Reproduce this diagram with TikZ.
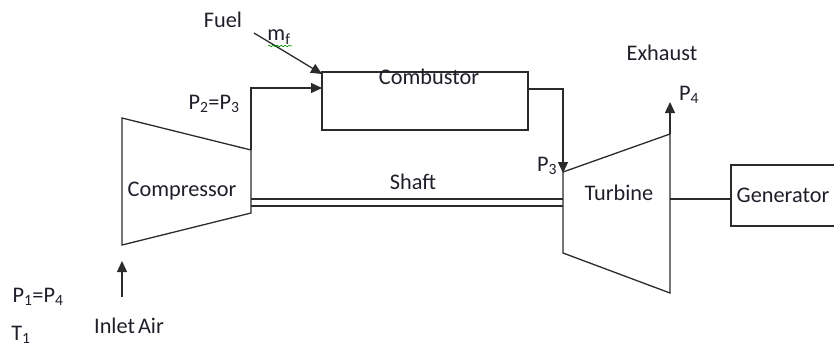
\documentclass[tikz,border=0pt]{standalone}
\usepackage{fontspec}
\setmainfont{Carlito}
\usetikzlibrary{arrows.meta,decorations.pathmorphing}
\definecolor{ln}{HTML}{2B2B2B}
\definecolor{tx}{HTML}{1F1F2A}
\tikzset{
  part/.style={draw=ln, line width=1.3pt, line join=miter},
  conn/.style={draw=ln, line width=1.3pt},
  arr/.style={conn, -{Triangle[length=11pt,width=10pt]}},
  lbl/.style={text=tx, font=\fontsize{22.3}{26}\selectfont, inner sep=0pt, anchor=center}
}
\begin{document}
\begin{tikzpicture}[x=1pt,y=-1pt]
\useasboundingbox (0,0) rectangle (834,349);
% compressor
\coordinate (cTL) at (122,118);
\coordinate (cBL) at (122,245);
\coordinate (cTR) at (251,150);
\coordinate (cBR) at (251,213);
\draw[part] (cTL) -- (cTR) -- (cBR) -- (cBL) -- cycle;
% turbine
\coordinate (tTL) at (563,172);
\coordinate (tBL) at (563,253);
\coordinate (tTR) at (670,134);
\coordinate (tBR) at (670,293);
\draw[part] (tTL) -- (tTR) -- (tBR) -- (tBL) -- cycle;
% combustor
\draw[part] (322,72) rectangle (528,130);
\coordinate (combIn) at (322,88);
\coordinate (combFuel) at (322,74);
\coordinate (combOut) at (528,89);
\coordinate (combCorner) at (563,89);
% generator
\draw[part] (840,165) -- (731,165) -- (731,226) -- (840,226);
\coordinate (genIn) at (731,199);
\coordinate (turbOut) at (670,199);
% compressor outlet to combustor
\coordinate (cOutTop) at (251,88);
\draw[arr] (cTR) -- (cOutTop) -- (combIn);
% fuel
\coordinate (fuelStart) at (254,33);
\draw[arr] (fuelStart) -- (combFuel);
% combustor to turbine
\draw[arr] (combOut) -- (combCorner) -- ([yshift=-1pt]tTL);
% exhaust
\coordinate (exTip) at (670,102);
\draw[arr] (tTR) -- (exTip);
% shaft
\draw[conn] (251,199) -- (563,199);
\draw[conn] (251,206) -- (563,206);
% generator link
\draw[conn] (turbOut) -- (genIn);
% inlet air
\coordinate (inBot) at (122,297);
\coordinate (inTip) at (122,261);
\draw[arr] (inBot) -- (inTip);
% labels
\node[lbl] (fuel) at (223,20) {Fuel};
\node[lbl] (mf) at (279,37) {m\textsubscript{f}};
\draw[green!60!black, line width=0.6pt, decorate, decoration={snake, amplitude=0.8pt, segment length=4pt}] (268,46) -- (292,46);
\node[lbl] (comb) at (429,77) {Combustor};
\node[lbl] (exh) at (662,53) {Exhaust};
\node[lbl] (p4) at (689,95) {P\textsubscript{4}};
\node[lbl] (p2) at (214,104) {P\textsubscript{2}=P\textsubscript{3}};
\node[lbl] (compr) at (182,191) {Compressor};
\node[lbl] (shaft) at (413,182) {Shaft};
\node[lbl] (p3) at (547,166) {P\textsubscript{3}};
\node[lbl] (turb) at (619,193) {Turbine};
\node[lbl] (gen) at (783,195) {Generator};
\node[lbl] (p1) at (38,297) {P\textsubscript{1}=P\textsubscript{4}};
\node[lbl] (t1) at (21,335) {T\textsubscript{1}};
\node[lbl] (inlet) at (129,326) {Inlet\hspace{-2pt} Air};
\end{tikzpicture}
\end{document}
